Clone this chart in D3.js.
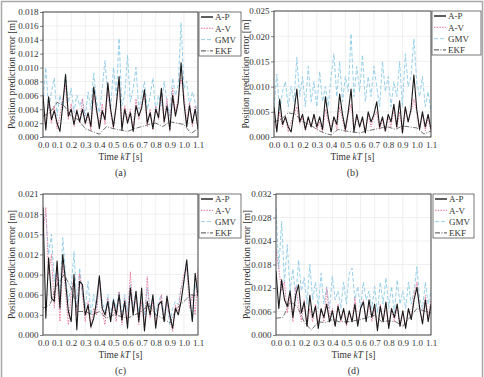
<!DOCTYPE html>
<html>
<head>
<meta charset="utf-8">
<script src="https://cdn.jsdelivr.net/npm/d3@7"></script>
<style>
  html, body { margin: 0; padding: 0; background: #fff; }
  svg { display: block; font-family: "Liberation Serif", "Times New Roman", serif; }
</style>
</head>
<body>
<svg id="fig" width="484" height="377"></svg>
<script>
/* ---------------- data ---------------- */
const seriesNames = ["A-P", "A-V", "GMV", "EKF"];
const xTickLabels = ["0.0","0.1","0.2","0.3","0.4","0.5","0.6","0.7","0.8","0.9","1.0","1.1"];
const panelLetters = ["(a)", "(b)", "(c)", "(d)"];

// sample times: 0.02 s for the fast series, 0.05 s for EKF
const tFast = d3.range(56).map(i => i * 0.02);
const tEkf = d3.range(23).map(i => i * 0.05);

const yTicksA = ["0.000","0.002","0.004","0.006","0.008","0.010","0.012","0.014","0.016","0.018"];
const yTicksB = ["0.000","0.005","0.010","0.015","0.020","0.025"];
const yTicksC = ["0.000","0.003","0.006","0.009","0.012","0.015","0.018","0.021"];
const yTicksD = ["0.000","0.006","0.012","0.018","0.024","0.028","0.032"];
const yMax = [0.018, 0.025, 0.021, 0.032];

const apA = [
  0.0060,0.0010,0.0058,0.0025,0.0038,0.0020,0.0008,0.0045,
  0.0090,0.0030,0.0040,0.0018,0.0038,0.0022,0.0040,0.0020,
  0.0035,0.0015,0.0072,0.0040,0.0012,0.0038,0.0025,0.0078,
  0.0040,0.0015,0.0045,0.0087,0.0010,0.0040,0.0020,0.0035,
  0.0008,0.0045,0.0030,0.0042,0.0068,0.0020,0.0035,0.0012,
  0.0040,0.0028,0.0070,0.0022,0.0045,0.0010,0.0060,0.0030,
  0.0050,0.0107,0.0050,0.0015,0.0045,0.0020,0.0040,0.0012];
const avA = [
  0.0035,0.0015,0.0050,0.0020,0.0045,0.0012,0.0030,0.0055,
  0.0075,0.0025,0.0048,0.0015,0.0040,0.0020,0.0055,0.0018,
  0.0030,0.0010,0.0060,0.0035,0.0020,0.0048,0.0018,0.0070,
  0.0035,0.0012,0.0050,0.0080,0.0015,0.0045,0.0025,0.0040,
  0.0010,0.0055,0.0025,0.0048,0.0060,0.0015,0.0040,0.0010,
  0.0045,0.0025,0.0065,0.0020,0.0055,0.0008,0.0070,0.0035,
  0.0058,0.0085,0.0060,0.0020,0.0050,0.0015,0.0045,0.0010];
const gmvA = [
  0.0050,0.0100,0.0040,0.0065,0.0085,0.0030,0.0060,0.0040,
  0.0090,0.0050,0.0070,0.0035,0.0060,0.0045,0.0055,0.0030,
  0.0065,0.0040,0.0092,0.0050,0.0035,0.0070,0.0110,0.0060,
  0.0040,0.0100,0.0060,0.0142,0.0045,0.0060,0.0118,0.0050,
  0.0070,0.0100,0.0040,0.0060,0.0080,0.0040,0.0058,0.0085,
  0.0035,0.0060,0.0045,0.0080,0.0050,0.0030,0.0085,0.0060,
  0.0075,0.0165,0.0070,0.0080,0.0045,0.0065,0.0050,0.0030];
const ekfA = [0.0030,0.0035,0.0050,0.0045,0.0030,0.0025,0.0012,0.0008,0.0004,0.0015,0.0012,0.0010,
  0.0008,0.0012,0.0015,0.0018,0.0020,0.0015,0.0022,0.0020,0.0018,0.0005,0.0012];

const apB = [
  0.0060,0.0010,0.0075,0.0025,0.0040,0.0020,0.0010,0.0050,
  0.0095,0.0030,0.0045,0.0015,0.0040,0.0020,0.0045,0.0020,
  0.0040,0.0015,0.0080,0.0040,0.0010,0.0040,0.0025,0.0085,
  0.0045,0.0015,0.0050,0.0095,0.0010,0.0045,0.0020,0.0040,
  0.0008,0.0050,0.0030,0.0045,0.0070,0.0020,0.0040,0.0012,
  0.0045,0.0030,0.0065,0.0020,0.0072,0.0008,0.0060,0.0030,
  0.0055,0.0123,0.0055,0.0015,0.0050,0.0020,0.0045,0.0015];
const avB = [
  0.0030,0.0015,0.0050,0.0020,0.0040,0.0010,0.0030,0.0045,
  0.0060,0.0025,0.0040,0.0012,0.0035,0.0020,0.0045,0.0015,
  0.0030,0.0010,0.0055,0.0030,0.0020,0.0040,0.0015,0.0060,
  0.0035,0.0010,0.0045,0.0065,0.0015,0.0040,0.0020,0.0035,
  0.0010,0.0045,0.0020,0.0040,0.0050,0.0015,0.0035,0.0010,
  0.0040,0.0020,0.0055,0.0018,0.0050,0.0008,0.0055,0.0030,
  0.0050,0.0075,0.0050,0.0018,0.0045,0.0012,0.0040,0.0010];
const gmvB = [
  0.0060,0.0125,0.0050,0.0090,0.0110,0.0060,0.0100,0.0070,
  0.0158,0.0080,0.0120,0.0060,0.0140,0.0070,0.0110,0.0060,
  0.0130,0.0070,0.0100,0.0060,0.0120,0.0165,0.0080,0.0150,
  0.0070,0.0120,0.0090,0.0205,0.0080,0.0140,0.0090,0.0163,
  0.0070,0.0120,0.0080,0.0140,0.0100,0.0060,0.0150,0.0090,
  0.0120,0.0060,0.0110,0.0080,0.0150,0.0060,0.0165,0.0100,
  0.0120,0.0195,0.0110,0.0080,0.0120,0.0060,0.0090,0.0050];
const ekfB = [0.0030,0.0035,0.0048,0.0045,0.0030,0.0025,0.0015,0.0008,0.0004,0.0015,0.0012,0.0010,
  0.0008,0.0012,0.0015,0.0018,0.0020,0.0015,0.0022,0.0020,0.0018,0.0006,0.0012];

const apC = [
  0.0190,0.0025,0.0115,0.0055,0.0050,0.0110,0.0040,0.0120,
  0.0080,0.0035,0.0020,0.0090,0.0008,0.0080,0.0075,0.0030,
  0.0045,0.0012,0.0025,0.0050,0.0088,0.0040,0.0030,0.0050,
  0.0020,0.0052,0.0030,0.0060,0.0022,0.0050,0.0010,0.0070,
  0.0030,0.0065,0.0020,0.0070,0.0006,0.0050,0.0030,0.0060,
  0.0010,0.0045,0.0050,0.0020,0.0058,0.0030,0.0010,0.0040,
  0.0030,0.0050,0.0080,0.0112,0.0060,0.0020,0.0092,0.0058];
const avC = [
  0.0150,0.0190,0.0090,0.0120,0.0040,0.0095,0.0020,0.0110,
  0.0065,0.0015,0.0060,0.0085,0.0030,0.0092,0.0060,0.0020,
  0.0050,0.0010,0.0040,0.0030,0.0085,0.0035,0.0015,0.0055,
  0.0025,0.0045,0.0020,0.0065,0.0015,0.0055,0.0020,0.0094,
  0.0030,0.0060,0.0015,0.0050,0.0010,0.0087,0.0025,0.0050,
  0.0015,0.0040,0.0060,0.0020,0.0050,0.0025,0.0005,0.0045,
  0.0035,0.0070,0.0090,0.0100,0.0040,0.0060,0.0030,0.0098];
const gmvC = [
  0.0170,0.0180,0.0120,0.0150,0.0080,0.0100,0.0060,0.0145,
  0.0090,0.0050,0.0070,0.0125,0.0040,0.0100,0.0060,0.0040,
  0.0080,0.0030,0.0060,0.0040,0.0085,0.0050,0.0035,0.0060,
  0.0030,0.0055,0.0040,0.0065,0.0030,0.0060,0.0035,0.0075,
  0.0040,0.0065,0.0030,0.0060,0.0030,0.0070,0.0040,0.0055,
  0.0030,0.0050,0.0060,0.0030,0.0050,0.0015,0.0040,0.0050,
  0.0045,0.0070,0.0080,0.0105,0.0060,0.0020,0.0075,0.0060];
const ekfC = [0.0040,0.0045,0.0075,0.0090,0.0070,0.0035,0.0035,0.0030,0.0035,0.0025,0.0030,0.0028,
  0.0025,0.0030,0.0035,0.0045,0.0030,0.0025,0.0018,0.0040,0.0050,0.0060,0.0058];

const apD = [
  0.0145,0.0060,0.0125,0.0080,0.0065,0.0100,0.0040,0.0090,
  0.0114,0.0050,0.0075,0.0020,0.0090,0.0040,0.0065,0.0015,
  0.0060,0.0040,0.0070,0.0030,0.0055,0.0020,0.0065,0.0035,
  0.0060,0.0025,0.0055,0.0030,0.0070,0.0020,0.0060,0.0075,
  0.0030,0.0080,0.0040,0.0070,0.0010,0.0065,0.0030,0.0075,
  0.0015,0.0060,0.0040,0.0070,0.0020,0.0055,0.0015,0.0060,
  0.0035,0.0080,0.0108,0.0060,0.0025,0.0080,0.0030,0.0070];
const avD = [
  0.0195,0.0150,0.0100,0.0120,0.0050,0.0090,0.0030,0.0110,
  0.0070,0.0030,0.0080,0.0020,0.0060,0.0030,0.0070,0.0025,
  0.0060,0.0030,0.0105,0.0040,0.0060,0.0020,0.0070,0.0030,
  0.0055,0.0020,0.0050,0.0030,0.0085,0.0025,0.0060,0.0080,
  0.0035,0.0070,0.0030,0.0060,0.0015,0.0070,0.0030,0.0065,
  0.0020,0.0060,0.0030,0.0065,0.0020,0.0050,0.0020,0.0060,
  0.0040,0.0090,0.0120,0.0060,0.0030,0.0090,0.0040,0.0080];
const gmvD = [
  0.0288,0.0150,0.0258,0.0120,0.0205,0.0100,0.0150,0.0080,
  0.0170,0.0100,0.0130,0.0070,0.0160,0.0080,0.0120,0.0060,
  0.0140,0.0070,0.0110,0.0060,0.0133,0.0080,0.0100,0.0060,
  0.0120,0.0070,0.0140,0.0152,0.0080,0.0110,0.0060,0.0120,
  0.0080,0.0100,0.0060,0.0110,0.0050,0.0120,0.0070,0.0130,
  0.0060,0.0110,0.0050,0.0125,0.0070,0.0100,0.0060,0.0120,
  0.0070,0.0100,0.0155,0.0080,0.0060,0.0120,0.0070,0.0100];
const ekfD = [0.0038,0.0040,0.0076,0.0065,0.0030,0.0011,0.0030,0.0028,0.0035,0.0030,0.0030,0.0032,
  0.0035,0.0040,0.0045,0.0030,0.0032,0.0030,0.0020,0.0040,0.0060,0.0055,0.0050];

/* ---------------- layout + styles ---------------- */
const FONT = "'Liberation Serif', 'Times New Roman', serif";

const layout = [
  { x: 43,  y: 12,  w: 155, h: 125, lx: 199, ly: 12,  lw: 42, yTitleX: 12 },
  { x: 274, y: 11,  w: 157, h: 126, lx: 432, ly: 11,  lw: 49, yTitleX: 246 },
  { x: 43,  y: 194, w: 155, h: 141, lx: 199, ly: 194, lw: 42, yTitleX: 12 },
  { x: 276, y: 194, w: 155, h: 141, lx: 433, ly: 194, lw: 41, yTitleX: 247 }
];

const styles = {
  "A-P": { stroke: "#1a1a1a", width: 1.1, dash: null },
  "A-V": { stroke: "#e0608e", width: 0.8, dash: "1.5,1.2" },
  "GMV": { stroke: "#8ccbe6", width: 0.9, dash: "4,2" },
  "EKF": { stroke: "#333333", width: 0.7, dash: "5,1.5,1,1.5" }
};

const panels = [
  { ticks: yTicksA, ymax: yMax[0], ap: apA, av: avA, gmv: gmvA, ekf: ekfA },
  { ticks: yTicksB, ymax: yMax[1], ap: apB, av: avB, gmv: gmvB, ekf: ekfB },
  { ticks: yTicksC, ymax: yMax[2], ap: apC, av: avC, gmv: gmvC, ekf: ekfC },
  { ticks: yTicksD, ymax: yMax[3], ap: apD, av: avD, gmv: gmvD, ekf: ekfD }
];

const svg = d3.select("#fig");

// outer figure frame
svg.append("rect")
  .attr("x", 1.5).attr("y", 1.5).attr("width", 481).attr("height", 390)
  .attr("fill", "none").attr("stroke", "#a8a8a8").attr("stroke-width", 1.5);

panels.forEach((p, i) => {
  const L = layout[i];
  const g = svg.append("g").attr("transform", `translate(${L.x},${L.y})`);

  const x = d3.scaleLinear().domain([0, 1.1]).range([0, L.w]);
  const y = d3.scaleLinear().domain([0, p.ymax]).range([L.h, 0]);
  const nT = p.ticks.length - 1;
  const yTickVals = p.ticks.map((_, k) => (k * p.ymax) / nT);
  const xTickVals = xTickLabels.map((_, k) => k * 0.1);

  // grid
  g.append("g").selectAll("line.v").data(xTickVals).join("line")
    .attr("x1", d => x(d)).attr("x2", d => x(d)).attr("y1", 0).attr("y2", L.h)
    .attr("stroke", "#e4e4e4").attr("stroke-width", 0.6);
  g.append("g").selectAll("line.h").data(yTickVals).join("line")
    .attr("x1", 0).attr("x2", L.w).attr("y1", d => y(d)).attr("y2", d => y(d))
    .attr("stroke", "#e4e4e4").attr("stroke-width", 0.6);

  // series
  const clipId = "clip" + i;
  g.append("clipPath").attr("id", clipId)
    .append("rect").attr("width", L.w).attr("height", L.h);
  const lines = g.append("g").attr("clip-path", `url(#${clipId})`);
  const line = d3.line().x(d => x(d[0])).y(d => y(d[1]));

  const order = [
    ["GMV", d3.zip(tFast, p.gmv)],
    ["A-V", d3.zip(tFast, p.av)],
    ["EKF", d3.zip(tEkf, p.ekf)],
    ["A-P", d3.zip(tFast, p.ap)]
  ];
  order.forEach(([name, pts]) => {
    const s = styles[name];
    lines.append("path")
      .attr("d", line(pts))
      .attr("fill", "none")
      .attr("stroke", s.stroke)
      .attr("stroke-width", s.width)
      .attr("stroke-dasharray", s.dash)
      .attr("stroke-linejoin", "round");
  });

  // axes
  const yAxis = d3.axisLeft(y).tickValues(yTickVals).tickSize(3).tickPadding(1.5)
    .tickFormat((d, k) => p.ticks[k]);
  const ya = g.append("g").call(yAxis).attr("font-family", FONT);
  ya.select(".domain").remove();
  ya.selectAll("line").attr("stroke", "#333").attr("stroke-width", 0.6);
  ya.selectAll("text").attr("font-size", 9).attr("fill", "#333");

  const xAxis = d3.axisBottom(x).tickValues(xTickVals).tickSize(0).tickPadding(5)
    .tickFormat((d, k) => xTickLabels[k]);
  const xa = g.append("g").attr("transform", `translate(0,${L.h})`).call(xAxis)
    .attr("font-family", FONT);
  xa.select(".domain").remove();
  xa.selectAll("text").attr("font-size", 9).attr("fill", "#333");

  // plot frame
  g.append("rect").attr("width", L.w).attr("height", L.h)
    .attr("fill", "none").attr("stroke", "#333").attr("stroke-width", 0.9);

  // titles
  g.append("text")
    .attr("x", L.w / 2).attr("y", L.h + 23)
    .attr("text-anchor", "middle").attr("font-size", 9.5).attr("fill", "#333")
    .html('Time <tspan font-style="italic">kT</tspan> [s]');
  g.append("text")
    .attr("x", L.w / 2).attr("y", L.h + 39)
    .attr("text-anchor", "middle").attr("font-size", 10).attr("fill", "#333")
    .text(panelLetters[i]);
  svg.append("text")
    .attr("transform", `translate(${L.yTitleX + 3},${L.y + L.h / 2}) rotate(-90)`)
    .attr("text-anchor", "middle").attr("font-size", 9.5).attr("fill", "#333")
    .text("Position prediction error [m]");

  // legend
  const lg = svg.append("g").attr("transform", `translate(${L.lx},${L.ly})`);
  lg.append("rect").attr("width", L.lw).attr("height", 44)
    .attr("fill", "#fff").attr("stroke", "#555").attr("stroke-width", 0.8);
  seriesNames.forEach((name, k) => {
    const s = styles[name];
    const cy = 5 + k * 11.3;
    lg.append("line")
      .attr("x1", 2).attr("x2", 14).attr("y1", cy).attr("y2", cy)
      .attr("stroke", s.stroke).attr("stroke-width", name === "A-P" ? 1.4 : 0.9)
      .attr("stroke-dasharray", s.dash);
    lg.append("text")
      .attr("x", 16).attr("y", cy + 3.2)
      .attr("font-size", 9).attr("fill", "#333")
      .text(name);
  });
});
</script>
</body>
</html>
